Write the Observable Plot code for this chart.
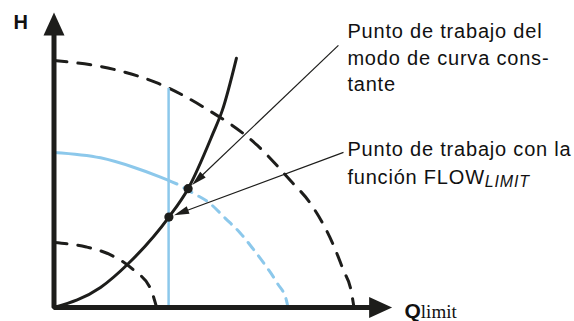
<!DOCTYPE html>
<html><head><meta charset="utf-8">
<script src="https://cdn.jsdelivr.net/npm/d3@7"></script>
<script src="https://cdn.jsdelivr.net/npm/@observablehq/plot@0.6"></script>
<style>body{margin:0;background:#fff;} svg{display:block;background:#fff}</style>
</head><body><div id="chart"></div>
<script>
// Relative flow Q and relative head H
const maxCurveQ = [0, 0.2, 0.348, 0.5, 0.678, 0.788, 0.855, 0.932, 0.965, 0.99, 1.0];
const maxCurveH = [1.0, 0.964, 0.907, 0.81, 0.656, 0.514, 0.421, 0.251, 0.150, 0.07, 0];
const minCurveQ = [0, 0.108, 0.192, 0.265, 0.323, 0.342];
const minCurveH = [0.263, 0.245, 0.211, 0.152, 0.073, 0];
const limitCurveQ = [0, 0.155, 0.265, 0.355, 0.41];
const limitCurveH = [0.628, 0.606, 0.568, 0.528, 0.50];
const limitDashQ = [0.41, 0.465, 0.515, 0.572, 0.622, 0.665, 0.705, 0.745, 0.775, 0.78];
const limitDashH = [0.50, 0.462, 0.426, 0.360, 0.300, 0.235, 0.170, 0.097, 0.028, 0];
const systemQ = [0, 0.155, 0.248, 0.383, 0.447, 0.530, 0.561, 0.608];
const systemH = [0, 0.081, 0.178, 0.366, 0.481, 0.705, 0.798, 1.009];
const flowLimitQ = 0.382;
const flowLimitTopH = 0.887;
const pointQ = [0.447, 0.383];
const pointH = [0.481, 0.366];
const noteQ = [0.948, 0.965];
const noteH = [1.061, 0.628];
const noteTexts = ["Punto de trabajo del\nmodo de curva cons-\ntante", "Punto de trabajo con la\nfunción FLOW"];
const axisEndQ = 1.127, axisEndH = 1.194;
const axisLabels = ["H", "Q"];

const black = "#1d1d1b", blue = "#8cc8eb";
const xs = d3.scaleLinear().domain([0, 1]).range([53.5, 353.5]);
const ys = d3.scaleLinear().domain([0, 1]).range([307, 60]);

const zip = (X, Y) => X.map((x, i) => ({x, y: Y[i]}));
const maxCurve = zip(maxCurveQ, maxCurveH);
const minCurve = zip(minCurveQ, minCurveH);
const limitCurve = zip(limitCurveQ, limitCurveH);
const limitDash = zip(limitDashQ, limitDashH);
const system = zip(systemQ, systemH);
const points = zip(pointQ, pointH);

const head = (L, W) => ({draw(ctx) { ctx.moveTo(0, 0); ctx.lineTo(W / 2, L); ctx.lineTo(-W / 2, L); ctx.closePath(); }});

// annotation arrows: from note anchor to dot edge
const notes = noteQ.map((q, i) => {
  const sx = xs(q), sy = ys(noteH[i]), px = xs(pointQ[i]), py = ys(pointH[i]);
  const len = Math.hypot(px - sx, py - sy), ux = (px - sx) / len, uy = (py - sy) / len;
  const tx = px - ux * 5.5, ty = py - uy * 5.5;
  return {x1: q, y1: noteH[i], x2: xs.invert(tx - ux * 10), y2: ys.invert(ty - uy * 10),
          tx: xs.invert(tx), ty: ys.invert(ty), angle: Math.atan2(ux, -uy) * 180 / Math.PI};
});
const axisLine = [
  {x: 0, y: ys.invert(ys(axisEndH) + 12)},
  {x: 0, y: 0},
  {x: xs.invert(xs(axisEndQ) - 12), y: 0}
];
const axisHeads = [{x: 0, y: axisEndH, angle: 0}, {x: axisEndQ, y: 0, angle: 90}];

const svg = Plot.plot({
  width: 574, height: 321, margin: 0,
  x: {domain: [0, 1], range: [53.5, 353.5], axis: null},
  y: {domain: [0, 1], range: [307, 60], axis: null},
  style: {fontFamily: "'Liberation Sans', Arial, sans-serif", color: black, background: "#fff"},
  marks: [
    Plot.line(maxCurve, {x: "x", y: "y", stroke: black, strokeWidth: 3, strokeDasharray: "13,11", curve: "monotone-x"}),
    Plot.line(minCurve, {x: "x", y: "y", stroke: black, strokeWidth: 3, strokeDasharray: "13,11", curve: "monotone-x"}),
    Plot.ruleX([flowLimitQ], {y1: 0, y2: flowLimitTopH, stroke: blue, strokeWidth: 2.5}),
    Plot.line(limitCurve, {x: "x", y: "y", stroke: blue, strokeWidth: 3, curve: "monotone-x"}),
    Plot.line(limitDash, {x: "x", y: "y", stroke: blue, strokeWidth: 3, strokeDasharray: "9,8", strokeDashoffset: 9, curve: "monotone-x"}),
    Plot.line(system, {x: "x", y: "y", stroke: black, strokeWidth: 3, curve: "monotone-x"}),
    Plot.line(axisLine, {x: "x", y: "y", stroke: black, strokeWidth: 5, strokeLinejoin: "miter", strokeLinecap: "butt"}),
    Plot.dot(axisHeads, {x: "x", y: "y", symbol: head(23, 21), rotate: "angle", fill: black, stroke: "none"}),
    Plot.link(notes, {x1: "x1", y1: "y1", x2: "x2", y2: "y2", stroke: black, strokeWidth: 1.2}),
    Plot.dot(notes, {x: "tx", y: "ty", symbol: head(15, 8), rotate: "angle", fill: black, stroke: "none"}),
    Plot.dot(points, {x: "x", y: "y", r: 4.6, fill: black, stroke: "none"}),
    Plot.text([noteTexts[0]], {x: 0.978, y: ys.invert(90.5), text: d => d, textAnchor: "start", lineAnchor: "bottom", lineHeight: 1.32, fontSize: 20, fill: "#111"}),
    Plot.text([noteTexts[1]], {x: 0.978, y: ys.invert(183.3), text: d => d, textAnchor: "start", lineAnchor: "bottom", lineHeight: 1.4, fontSize: 20, fill: "#111"}),
    Plot.text([axisLabels[0]], {x: xs.invert(13), y: ys.invert(28), text: d => d, textAnchor: "start", lineAnchor: "bottom", fontSize: 20, fontWeight: "bold", fill: "#111"}),
    Plot.text([axisLabels[1]], {x: xs.invert(404), y: ys.invert(317), text: d => d, textAnchor: "start", lineAnchor: "bottom", fontSize: 21, fontWeight: "bold", fill: "#111"})
  ]
});

const root = d3.select(svg);
root.selectAll("tspan").filter(function() { return this.textContent === "función FLOW"; })
  .each(function() {
    d3.select(this.parentNode).append("tspan").attr("dy", "3.5px").attr("font-style", "italic").attr("font-size", 16).text("LIMIT");
  });
root.selectAll("text").filter(function() { return this.textContent.startsWith("Punto") || this.textContent.startsWith("función"); })
  .attr("letter-spacing", "0.8px");
root.selectAll("text").filter(function() { return this.textContent === "Q"; })
  .each(function() {
    d3.select(this).append("tspan").attr("font-family", "'Liberation Serif', 'Times New Roman', serif").attr("font-weight", "normal").attr("font-size", 19).text("limit");
  });
document.getElementById("chart").appendChild(svg);
</script>
</body></html>
